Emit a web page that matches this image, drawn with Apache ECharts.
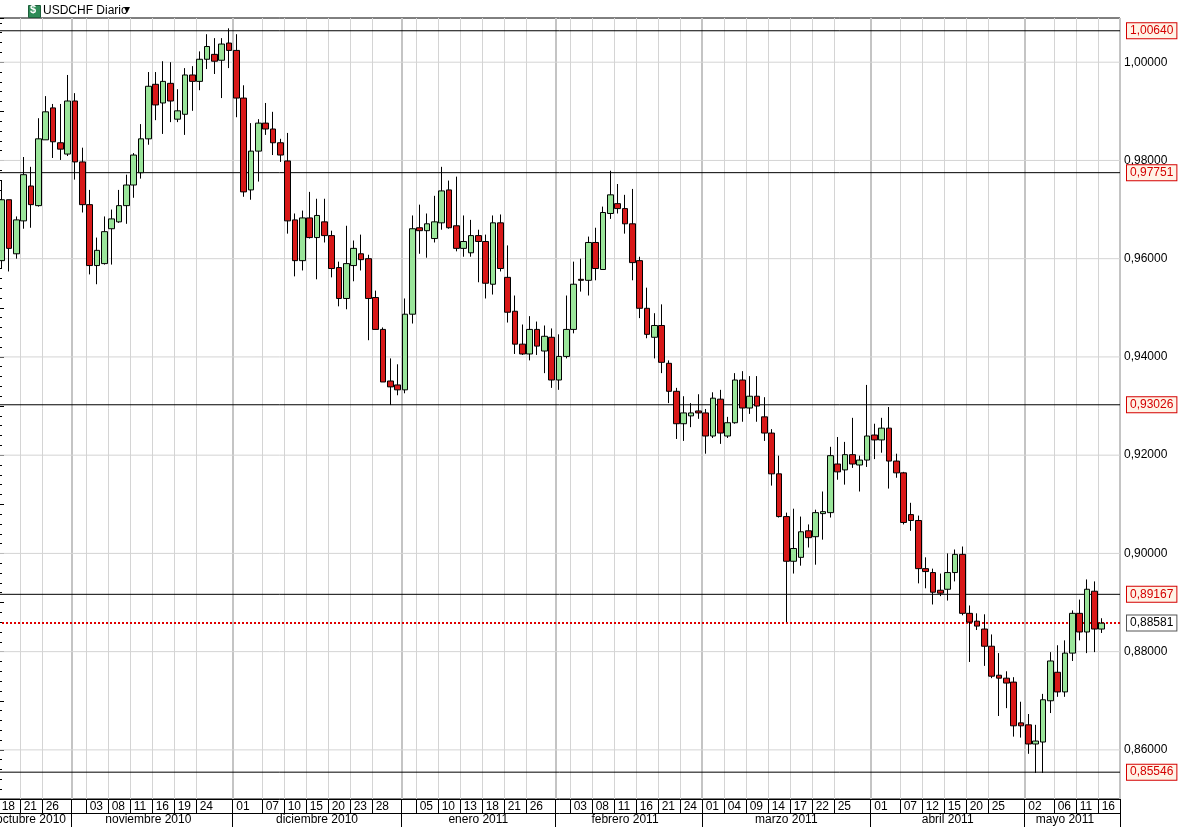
<!DOCTYPE html>
<html><head><meta charset="utf-8">
<script src="https://cdn.jsdelivr.net/npm/echarts@6/dist/echarts.min.js"></script>
<style>html,body{margin:0;padding:0;background:#fff}#c{width:1182px;height:827px}</style>
</head><body><div id="c"></div>
<script>
var startDate = '2010-10-18';
var endDate = '2011-05-16';
var opens = [.9596,.9720,.9610,.9677,.9748,.9708,.9842,.9907,.9836,.9813,.9921,.9797,.9710,.9586,.9590,.9661,.9675,.9708,.9750,.9775,
.9844,.9955,.9917,.9957,.9884,.9894,.9974,.9961,1.0006,1.0016,1.0004,1.0039,1.0024,.9927,.9740,.9819,.9876,.9864,.9836,.9799,
.9679,.9596,.9683,.9643,.9675,.9647,.9582,.9519,.9586,.9610,.9600,.9521,.9456,.9351,.9343,.9333,.9487,.9663,.9657,.9641,
.9673,.9740,.9667,.9621,.9612,.9647,.9635,.9548,.9673,.9562,.9493,.9426,.9406,.9456,.9412,.9440,.9353,.9401,.9456,.9558,
.9556,.9633,.9578,.9692,.9712,.9702,.9671,.9596,.9499,.9440,.9464,.9387,.9330,.9264,.9280,.9290,.9286,.9239,.9314,.9239,
.9266,.9353,.9296,.9320,.9278,.9245,.9162,.9075,.8984,.8992,.9046,.9034,.9081,.9083,.9182,.9170,.9201,.9180,.9190,.9241,
.9231,.9255,.9188,.9164,.9079,.9067,.8969,.8961,.8925,.8927,.8961,.8998,.8878,.8862,.8846,.8811,.8752,.8746,.8738,.8655,
.8651,.8612,.8616,.8700,.8758,.8718,.8797,.8878,.8840,.8923,.8846];
var closes = [.9720,.9621,.9679,.9771,.9710,.9844,.9899,.9838,.9823,.9921,.9797,.9710,.9586,.9617,.9655,.9681,.9708,.9750,.9811,.9844,
.9951,.9913,.9961,.9921,.9901,.9974,.9961,1.0006,1.0032,1.0002,1.0037,1.0024,.9927,.9736,.9819,.9876,.9864,.9836,.9811,.9677,
.9596,.9683,.9643,.9688,.9647,.9580,.9519,.9590,.9621,.9598,.9519,.9456,.9349,.9339,.9333,.9487,.9661,.9657,.9671,.9675,
.9738,.9663,.9621,.9635,.9647,.9635,.9550,.9673,.9580,.9491,.9426,.9406,.9456,.9422,.9442,.9353,.9401,.9456,.9548,.9556,
.9633,.9580,.9694,.9730,.9702,.9671,.9592,.9499,.9446,.9464,.9389,.9330,.9264,.9286,.9286,.9286,.9239,.9316,.9245,.9266,
.9353,.9296,.9320,.9300,.9245,.9162,.9075,.8984,.9010,.9044,.9032,.9083,.9085,.9199,.9166,.9201,.9182,.9190,.9239,.9231,
.9255,.9188,.9164,.9063,.9067,.8969,.8963,.8921,.8919,.8961,.8998,.8878,.8860,.8852,.8811,.8750,.8746,.8736,.8649,.8649,
.8612,.8618,.8702,.8781,.8718,.8797,.8878,.8840,.8927,.8846,.8858];
var lows = [.9580,.9574,.9600,.9661,.9663,.9706,.9842,.9805,.9801,.9809,.9761,.9694,.9568,.9548,.9588,.9588,.9673,.9671,.9724,.9763,
.9832,.9882,.9854,.9878,.9878,.9852,.9901,.9943,.9986,.9976,.9927,.9988,.9888,.9726,.9720,.9757,.9852,.9811,.9797,.9651,
.9564,.9576,.9641,.9558,.9633,.9562,.9503,.9497,.9554,.9576,.9434,.9456,.9349,.9302,.9322,.9326,.9468,.9610,.9602,.9633,
.9659,.9661,.9615,.9604,.9604,.9552,.9519,.9527,.9574,.9470,.9406,.9404,.9393,.9404,.9367,.9337,.9333,.9397,.9448,.9533,
.9525,.9556,.9578,.9681,.9692,.9651,.9556,.9479,.9438,.9397,.9367,.9306,.9233,.9229,.9257,.9274,.9203,.9235,.9223,.9235,
.9264,.9268,.9284,.9268,.9229,.9138,.9073,.8860,.8959,.8975,.9012,.8977,.9028,.9073,.9150,.9140,.9174,.9126,.9176,.9192,
.9205,.9132,.9154,.9059,.9046,.8939,.8929,.8896,.8913,.8904,.8943,.8874,.8779,.8844,.8771,.8746,.8669,.8685,.8627,.8625,
.8592,.8553,.8553,.8675,.8708,.8708,.8781,.8823,.8797,.8799,.8838];
var highs = [.9759,.9720,.9686,.9807,.9787,.9886,.9931,.9915,.9915,.9974,.9937,.9826,.9740,.9643,.9686,.9700,.9740,.9771,.9815,.9874,
.9980,.9980,1.0002,1.0000,.9945,.9988,.9992,1.0022,1.0057,1.0049,1.0049,1.0069,1.0057,.9953,.9876,.9884,.9917,.9899,.9844,.9856,
.9692,.9698,.9736,.9722,.9722,.9657,.9594,.9667,.9637,.9649,.9608,.9535,.9460,.9397,.9385,.9519,.9688,.9710,.9692,.9728,
.9787,.9759,.9767,.9688,.9679,.9659,.9649,.9688,.9690,.9627,.9525,.9466,.9483,.9472,.9464,.9458,.9446,.9525,.9594,.9600,
.9645,.9663,.9706,.9779,.9752,.9730,.9742,.9604,.9541,.9489,.9507,.9393,.9337,.9320,.9306,.9324,.9294,.9328,.9333,.9278,
.9367,.9371,.9361,.9361,.9318,.9253,.9199,.9083,.9091,.9075,.9059,.9089,.9126,.9217,.9237,.9227,.9276,.9199,.9343,.9264,
.9276,.9298,.9203,.9166,.9103,.9077,.8992,.8969,.8959,.9000,.9008,.9014,.8894,.8878,.8876,.8835,.8797,.8760,.8748,.8698,
.8673,.8651,.8714,.8799,.8813,.8823,.8884,.8906,.8947,.8943,.8868];
var levelLines = [1.00640, 0.97751, 0.93026, 0.89167, 0.85546];
var lastPrice = 0.88581;
var priceTicks = [0.86, 0.88, 0.90, 0.92, 0.94, 0.96, 0.98, 1.00];
var dayTicks = ['2010-10-18','2010-10-21','2010-10-26','2010-11-03','2010-11-08','2010-11-11','2010-11-16','2010-11-19','2010-11-24',
'2010-12-01','2010-12-07','2010-12-10','2010-12-15','2010-12-20','2010-12-23','2010-12-28',
'2011-01-05','2011-01-10','2011-01-13','2011-01-18','2011-01-21','2011-01-26',
'2011-02-03','2011-02-08','2011-02-11','2011-02-16','2011-02-21','2011-02-24',
'2011-03-01','2011-03-04','2011-03-09','2011-03-14','2011-03-17','2011-03-22','2011-03-25',
'2011-04-01','2011-04-07','2011-04-12','2011-04-15','2011-04-20','2011-04-25',
'2011-05-02','2011-05-06','2011-05-11','2011-05-16'];
var monthNames = ['enero','febrero','marzo','abril','mayo','junio','julio','agosto','septiembre','octubre','noviembre','diciembre'];

var dates = [];
(function(){var d=new Date(startDate+'T12:00:00Z'),e=new Date(endDate+'T12:00:00Z');
 while(d<=e){var w=d.getUTCDay(); if(w!==0&&w!==6) dates.push(d.toISOString().slice(0,10)); d.setUTCDate(d.getUTCDate()+1);} })();
var data = dates.map(function(_, i){return [opens[i], closes[i], lows[i], highs[i]];});
var cats = dates.concat(['', ' ']);
var daySet = {}; dayTicks.forEach(function(t){daySet[t]=1;});
var monthStart = {}, monthMid = {}, groups = {};
dates.forEach(function(d,i){var k=d.slice(0,7); (groups[k]=groups[k]||[]).push(i);});
Object.keys(groups).forEach(function(k){var g=groups[k]; if(k!=='2010-10') monthStart[g[0]]=1; monthMid[g[Math.floor((g.length-1)/2)]]=k;});
function fmt(v){return v.toFixed(5).replace('.',',');}
function isTick(v){return priceTicks.some(function(t){return Math.abs(t-v)<1e-6;});}
var F='Liberation Sans, Arial, sans-serif';

var chart = echarts.init(document.getElementById('c'));
var series = [{type:'candlestick', data:data, barWidth:6, z:5,
    itemStyle:{color:'#9ae59a', color0:'#d81818', borderColor:'#000', borderColor0:'#000', borderWidth:1}}];
priceTicks.forEach(function(v){
  series.push({type:'line', xAxisIndex:2, data:[[0,v],[1,v]], symbol:'none', silent:true, z:1,
    lineStyle:{color:'#d4d4d4', width:1}});
});
function levelSeries(v, color, width, type, txtColor, border, z){
  return {type:'line', xAxisIndex:2, data:[[0,v],[1,v]], symbol:'none', silent:true, z:z,
    lineStyle:{color:color, width:width, type:type},
    endLabel:{show:true, formatter:fmt(v), color:txtColor, backgroundColor:txtColor==='#000'?'#fff':'#fff3e6', borderColor:border, borderWidth:1,
      padding:[2,3,1,3], fontFamily:F, fontSize:12, distance:7}};
}
levelLines.forEach(function(v){ series.push(levelSeries(v, '#000', 1, 'solid', '#d40000', '#d40000', 3)); });
series.push(levelSeries(lastPrice, '#e00000', 2, [2,2], '#000', '#555', 4));

chart.setOption({
  animation:false,
  grid:{left:-2, right:62, top:18, bottom:28, show:true, borderColor:'#000', borderWidth:1, outerBoundsMode:'none', containLabel:false},
  xAxis:[{type:'category', data:cats, boundaryGap:true,
    axisLine:{lineStyle:{color:'#000'}},
    axisTick:{show:true, length:15, interval:function(i,v){return !!daySet[v]||!!monthStart[i];}, lineStyle:{color:'#000'}},
    axisLabel:{interval:function(i,v){return !!daySet[v];}, formatter:function(v){return v.slice(8);}, align:'left', margin:2, color:'#000', fontFamily:F, fontSize:12},
    splitLine:{show:true, interval:function(i,v){return !!daySet[v]||!!monthStart[i];}, lineStyle:{color:'#d4d4d4'}}},
   {type:'category', data:cats, boundaryGap:true, position:'bottom', offset:14,
    axisLine:{lineStyle:{color:'#000'}},
    axisTick:{show:true, length:14, interval:function(i){return !!monthStart[i];}, lineStyle:{color:'#000'}},
    axisLabel:{interval:function(i){return monthMid[i]!==undefined;}, formatter:function(v){var k=v.slice(0,7);return monthNames[+k.slice(5)-1]+' '+k.slice(0,4);}, margin:1, color:'#000', fontFamily:F, fontSize:12},
    splitLine:{show:true, interval:function(i){return !!monthStart[i];}, lineStyle:{color:'#c4c4c4', width:2}}},
   {type:'value', min:0, max:1, show:false}],
  yAxis:{type:'value', position:'right', min:0.85, max:1.009, interval:0.01,
    axisLine:{show:true, lineStyle:{color:'#000'}},
    axisTick:{show:true, length:6, lineStyle:{color:'#000'}},
    minorTick:{show:true, splitNumber:5, length:4, lineStyle:{color:'#000'}},
    axisLabel:{showMinLabel:false, showMaxLabel:false, formatter:function(v){return isTick(v)?fmt(v):'';}, color:'#000', fontFamily:F, fontSize:12, margin:4},
    splitLine:{show:false}},
  series:series,
  graphic:[
    {type:'rect', left:28, top:5, shape:{width:12,height:12}, style:{fill:'#2e8b57', stroke:'#1d5e3a'}},
    {type:'text', left:30, top:4, style:{text:'$', fill:'#fff', font:'bold 11px '+F}},
    {type:'text', left:43, top:5, style:{text:'USDCHF Diario', fill:'#000', font:'12px '+F}},
    {type:'text', left:124, top:4, style:{text:'▾', fill:'#000', font:'12px '+F}}
  ]
});
</script></body></html>
